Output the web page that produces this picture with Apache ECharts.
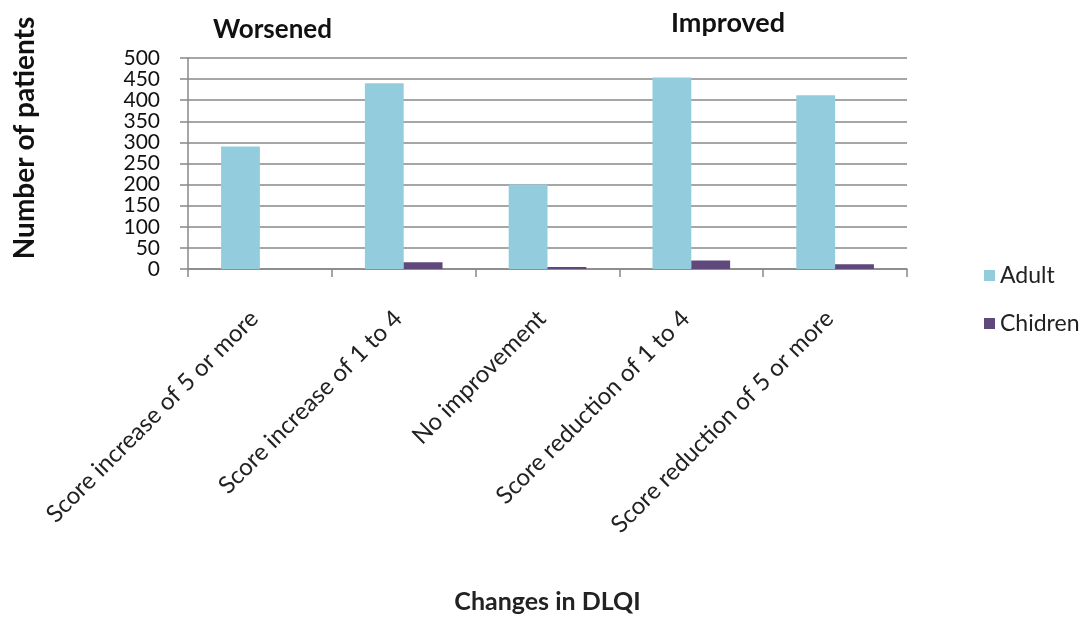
<!DOCTYPE html>
<html>
<head>
<meta charset="utf-8">
<script src="https://cdn.jsdelivr.net/npm/echarts@6/dist/echarts.min.js"></script>
<style>
html,body{margin:0;padding:0;background:#fff;}
#chart{width:1088px;height:617px;}
</style>
</head>
<body>
<div id="chart"></div>
<script>
const categories = ["Score increase of 5 or more", "Score increase of 1 to 4", "No improvement", "Score reduction of 1 to 4", "Score reduction of 5 or more"];
const adultValues = [290, 440, 200, 454, 412];
const childrenValues = [0, 16, 5, 20, 11];
const seriesNames = ["Adult", "Chidren"];
const groupLabels = ["Worsened", "Improved"];
const yAxisTitle = "Number of patients";
const xAxisTitle = "Changes in DLQI";

const FONT = "Lato";
const chart = echarts.init(document.getElementById('chart'));
chart.setOption({
  backgroundColor: '#ffffff',
  animation: false,
  textStyle: { fontFamily: FONT },
  title: [
    { text: groupLabels[0], left: 208, top: 12, textStyle: { fontFamily: FONT, fontSize: 26, fontWeight: 'bold', color: '#111' } },
    { text: groupLabels[1], left: 666, top: 5, textStyle: { fontFamily: FONT, fontSize: 27, fontWeight: 'bold', color: '#111' } }
  ],
  graphic: [
    { type: 'text', x: 25, y: 138, rotation: Math.PI / 2,
      style: { text: yAxisTitle, fontFamily: FONT, fontSize: 28, fontWeight: 'bold', fill: '#111', align: 'center', verticalAlign: 'middle' } }
  ],
  legend: {
    orient: 'vertical',
    left: 979,
    top: 259,
    itemWidth: 11,
    itemHeight: 11,
    itemGap: 25,
    icon: 'rect',
    textStyle: { fontFamily: FONT, fontSize: 23, color: '#222' },
    data: seriesNames
  },
  grid: { left: 188, right: 181, top: 58, bottom: 348, containLabel: false },
  xAxis: {
    type: 'category',
    data: categories,
    boundaryGap: true,
    name: xAxisTitle,
    nameLocation: 'middle',
    nameGap: 320,
    nameTextStyle: { fontFamily: FONT, fontSize: 25, fontWeight: 'bold', color: '#222' },
    axisLine: { lineStyle: { color: '#888', width: 1.5 } },
    axisTick: { show: true, length: 8, lineStyle: { color: '#888', width: 1.5 } },
    axisLabel: { rotate: 45, margin: 40, padding: [0, 8, 0, 0], interval: 0, fontFamily: FONT, fontSize: 24, color: '#222' }
  },
  yAxis: {
    type: 'value',
    min: 0,
    max: 500,
    interval: 50,
    axisLine: { show: true, lineStyle: { color: '#888', width: 1.5 } },
    axisTick: { show: true, length: 8, lineStyle: { color: '#888', width: 1.5 } },
    axisLabel: { margin: 28, showMinLabel: true, showMaxLabel: true, hideOverlap: false, fontFamily: FONT, fontSize: 21, color: '#111', lineHeight: 14 },
    splitLine: { show: true, lineStyle: { color: '#888', width: 1.5 } }
  },
  series: [
    { name: seriesNames[0], type: 'bar', data: adultValues, barGap: '0%', barCategoryGap: '46%', itemStyle: { color: '#93CDDD' } },
    { name: seriesNames[1], type: 'bar', data: childrenValues, itemStyle: { color: '#5F497A' } }
  ]
});
</script>
</body>
</html>
